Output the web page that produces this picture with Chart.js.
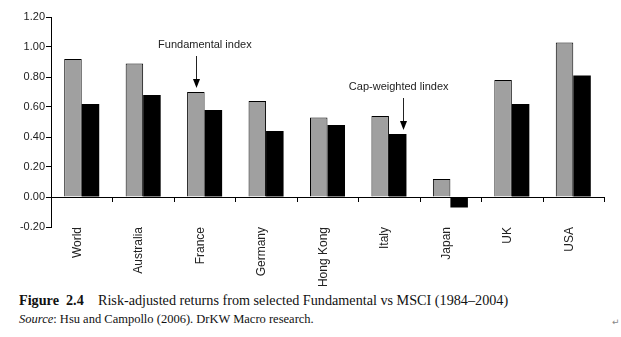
<!DOCTYPE html>
<html>
<head>
<meta charset="utf-8">
<script src="https://cdn.jsdelivr.net/npm/chart.js@4.4.1/dist/chart.umd.min.js"></script>
<style>
  html, body { margin: 0; padding: 0; background: #fff; }
  #wrap { position: relative; width: 621px; height: 337px; overflow: hidden; }
  #c { position: absolute; left: 0; top: 0; }
  .cap { position: absolute; font-family: 'Liberation Serif', 'Times New Roman', serif; color: #111; white-space: nowrap; }
  #cap1 { left: 19px; top: 292px; font-size: 14.2px; }
  #cap2 { left: 19px; top: 312px; font-size: 12.5px; }
  #mark { position: absolute; left: 612px; top: 317px; font-size: 9px; color: #888; font-family: 'DejaVu Sans', sans-serif; }
</style>
</head>
<body>
<div id="wrap">
  <canvas id="c" width="621" height="290"></canvas>
  <div class="cap" id="cap1"><b>Figure&nbsp; 2.4</b>&nbsp;&nbsp;&nbsp; Risk-adjusted returns from selected Fundamental vs MSCI (1984–2004)</div>
  <div class="cap" id="cap2"><i>Source</i>: Hsu and Campollo (2006). DrKW Macro research.</div>
  <div id="mark">↵</div>
</div>
<script>
const categories = ['World', 'Australia', 'France', 'Germany', 'Hong Kong', 'Italy', 'Japan', 'UK', 'USA'];
const fundamentalIndex = [0.92, 0.89, 0.70, 0.64, 0.53, 0.54, 0.12, 0.78, 1.03];
const capWeightedIndex = [0.62, 0.68, 0.58, 0.44, 0.48, 0.42, -0.07, 0.62, 0.81];
const seriesNames = ['Fundamental index', 'Cap-weighted index'];
const yTickValues = [-0.2, 0.0, 0.2, 0.4, 0.6, 0.8, 1.0, 1.2];
const annotationTexts = ['Fundamental index', 'Cap-weighted lindex'];

// annotation anchors: which bar each arrow points at
const annotations = [
  { text: annotationTexts[0], category: 2, dataset: 0, arrowDx: 0, textDx: 9 },
  { text: annotationTexts[1], category: 5, dataset: 1, arrowDx: 5, textDx: 1 }
];

const FONT = "'Liberation Sans', Arial, sans-serif";
Chart.defaults.font.family = FONT;
Chart.defaults.font.size = 11;
Chart.defaults.color = '#222';

const extras = {
  id: 'extras',
  afterDatasetsDraw(chart) {
    const ctx = chart.ctx;
    const xs = chart.scales.x, ys = chart.scales.y;
    const n = categories.length;
    const step = (xs.right - xs.left) / n;
    const y0 = ys.getPixelForValue(0);
    ctx.save();
    ctx.strokeStyle = '#000';
    ctx.lineWidth = 1;
    // category boundary tick marks on zero line
    for (let i = 1; i <= n; i++) {
      const x = Math.round(xs.getPixelForValue(i - 1) + step / 2) + 0.5;
      ctx.beginPath();
      ctx.moveTo(x, y0);
      ctx.lineTo(x, y0 + 5);
      ctx.stroke();
    }
    // annotations
    ctx.font = '11px ' + FONT;
    ctx.textAlign = 'center';
    ctx.textBaseline = 'middle';
    annotations.forEach(a => {
      const bar = chart.getDatasetMeta(a.dataset).data[a.category];
      const ax = Math.round(bar.x + a.arrowDx) + 0.5;
      const tipY = bar.y - 4;
      const topY = tipY - 32;
      ctx.strokeStyle = '#222';
      ctx.beginPath();
      ctx.moveTo(ax, topY);
      ctx.lineTo(ax, tipY - 7);
      ctx.stroke();
      ctx.beginPath();
      ctx.moveTo(ax - 3.5, tipY - 9);
      ctx.lineTo(ax + 3.5, tipY - 9);
      ctx.lineTo(ax, tipY);
      ctx.closePath();
      ctx.fillStyle = '#000';
      ctx.fill();
      ctx.fillStyle = '#222';
      ctx.fillText(a.text, bar.x + a.textDx, topY - 11);
    });
    ctx.restore();
  }
};

new Chart(document.getElementById('c'), {
  type: 'bar',
  data: {
    labels: categories,
    datasets: [
      { label: seriesNames[0], data: fundamentalIndex, backgroundColor: '#a0a0a0', borderColor: '#000', borderWidth: 1 },
      { label: seriesNames[1], data: capWeightedIndex, backgroundColor: '#000', borderColor: '#000', borderWidth: 0 }
    ]
  },
  options: {
    responsive: false,
    animation: false,
    devicePixelRatio: 1,
    layout: { padding: { left: 0, right: 17, top: 17, bottom: 0 } },
    plugins: { legend: { display: false }, tooltip: { enabled: false } },
    datasets: { bar: { categoryPercentage: 0.57, barPercentage: 1.0 } },
    scales: {
      x: {
        offset: true,
        grid: { display: false, drawTicks: false },
        border: { display: false },
        ticks: { minRotation: 90, maxRotation: 90, padding: 0, labelOffset: -4, autoSkip: false, color: '#222', font: { size: 12 } },
        afterFit(scale) { scale.height = 63; }
      },
      y: {
        min: yTickValues[0],
        max: yTickValues[yTickValues.length - 1],
        afterBuildTicks(scale) { scale.ticks = yTickValues.map(v => ({ value: v })); },
        ticks: { callback: v => Number(v).toFixed(2), padding: 1, color: '#222' },
        grid: {
          color: c => (c.tick && Math.abs(c.tick.value) < 1e-9) ? '#000' : 'rgba(0,0,0,0)',
          tickColor: '#000',
          tickLength: 5,
          lineWidth: 1
        },
        border: { display: true, color: '#000', width: 1 },
        afterFit(scale) { scale.width = 51; }
      }
    }
  },
  plugins: [extras]
});
</script>
</body>
</html>
